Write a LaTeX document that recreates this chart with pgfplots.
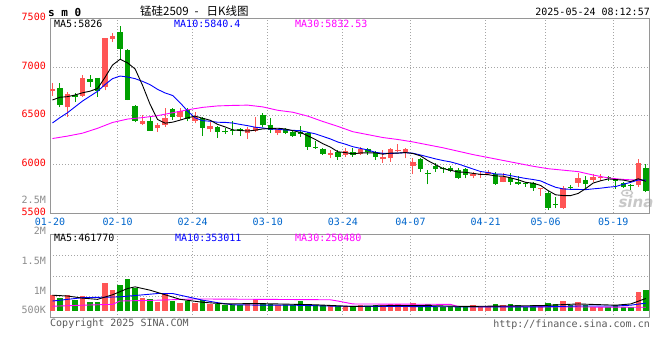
\documentclass[border=0pt]{standalone}
\usepackage{pgfplots}
\pgfplotsset{compat=1.18}
\usepackage{fontspec}
\setmonofont{DejaVu Sans Mono}
\newfontfamily\cjk{Noto Sans CJK SC}
\newfontfamily\wmfont{DejaVu Sans}
\definecolor{cred}{RGB}{255,85,85}
\definecolor{cgreen}{RGB}{0,160,0}
\definecolor{bordergray}{RGB}{150,150,150}
\definecolor{gridgray}{RGB}{165,165,165}
\definecolor{datecol}{RGB}{0,102,204}
\definecolor{labgray}{RGB}{140,140,140}
\definecolor{txtgray}{RGB}{90,90,90}
\definecolor{mablue}{RGB}{0,0,255}
\definecolor{mamag}{RGB}{255,0,255}
\definecolor{wmgray}{RGB}{200,200,200}
\newcommand{\mf}{\ttfamily\fontsize{10bp}{12bp}\selectfont}
\begin{document}
\begin{tikzpicture}[x=1bp,y=1bp,font=\mf]
\fill[white] (0,0) rectangle (660,360);
\pgfplotsset{
  kbase/.style={scale only axis, width=599bp, xmin=-0.33, xmax=79.43,
    axis line style={draw=bordergray, line width=1bp},
    major tick length=0pt,
    xtick={-0.33,8.67,18.67,28.67,38.67,47.67,57.67,65.67,74.67},
    xmajorgrids, ymajorgrids,
    major grid style={draw=gridgray, line width=0.8bp, dash pattern=on 1bp off 2bp},
    unbounded coords=jump, clip=true, scaled y ticks=false,
    tick label style={font=\mf},
  },
  wick/.style={line width=1bp},
  body/.style={line width=5.5bp},
  mal/.style={line width=0.9bp},
}
% watermark
\node[inner sep=0pt, text=wmgray, font=\wmfont\bfseries\itshape\fontsize{15bp}{15bp}\selectfont] at (636,158) {sina};
\draw[wmgray, line width=1.3bp] (627,167) ellipse (5.5 and 3);
\fill[wmgray] (627,167) circle (1.6);
% ---------------- price panel ----------------
\begin{axis}[kbase, at={(50bp,147bp)}, anchor=south west, height=194.7bp,
  ymin=5500, ymax=7500, ytick={5500,6000,6500,7000,7500},
  yticklabels={5500,6000,6500,7000,7500},
  yticklabel style={text=red, inner sep=0pt, xshift=-4bp, yshift=1.5bp},
  xticklabels={01-20,02-10,02-24,03-10,03-24,04-07,04-21,05-06,05-19},
  xticklabel style={text=datecol, inner sep=0pt, yshift=-5bp},
]
% red wicks
\addplot[cred, wick] coordinates {
(0,6702)(0,6832)(0,nan) (2,6487)(2,6746)(2,nan) (4,6695)(4,6918)(4,nan)
(7,6760)(7,7300)(7,nan) (8,7260)(8,7345)(8,nan) (12,6405)(12,6505)(12,nan)
(14,6336)(14,6422)(14,nan) (15,6385)(15,6575)(15,nan) (17,6460)(17,6575)(17,nan)
(19,6420)(19,6540)(19,nan) (21,6336)(21,6438)(21,nan) (26,6260)(26,6380)(26,nan)
(27,6335)(27,6490)(27,nan) (30,6300)(30,6365)(30,nan) (37,6062)(37,6147)(37,nan)
(39,6080)(39,6165)(39,nan) (41,6100)(41,6175)(41,nan) (44,6017)(44,6147)(44,nan)
(45,6028)(45,6165)(45,nan) (46,6130)(46,6210)(46,nan) (47,6062)(47,6165)(47,nan)
(48,5900)(48,6068)(48,nan) (56,5855)(56,5920)(56,nan) (57,5863)(57,5925)(57,nan)
(58,5890)(58,5940)(58,nan) (60,5815)(60,5908)(60,nan) (65,5678)(65,5760)(65,nan)
(68,5545)(68,5781)(68,nan) (70,5771)(70,5908)(70,nan) (72,5822)(72,5898)(72,nan)
(73,5830)(73,5898)(73,nan) (78,5770)(78,6055)(78,nan)
};
% red bodies
\addplot[cred, body] coordinates {
(0,6755)(0,6770)(0,nan) (2,6586)(2,6723)(2,nan) (4,6702)(4,6884)(4,nan)
(7,6790)(7,7295)(7,nan) (8,7285)(8,7320)(8,nan) (12,6415)(12,6445)(12,nan)
(14,6370)(14,6405)(14,nan) (15,6400)(15,6480)(15,nan) (17,6485)(17,6548)(17,nan)
(19,6440)(19,6490)(19,nan) (21,6360)(21,6390)(21,nan) (26,6320)(26,6360)(26,nan)
(27,6343)(27,6380)(27,nan) (30,6325)(30,6360)(30,nan) (37,6097)(37,6120)(37,nan)
(39,6097)(39,6140)(39,nan) (41,6107)(41,6155)(41,nan) (44,6052)(44,6072)(44,nan)
(45,6062)(45,6155)(45,nan) (46,6140)(46,6150)(46,nan) (47,6125)(47,6158)(47,nan)
(48,5987)(48,6020)(48,nan) (56,5880)(56,5898)(56,nan) (57,5887)(57,5897)(57,nan)
(58,5898)(58,5920)(58,nan) (60,5822)(60,5873)(60,nan) (65,5744)(65,5754)(65,nan)
(68,5550)(68,5754)(68,nan) (70,5812)(70,5863)(70,nan) (72,5840)(72,5867)(72,nan)
(73,5856)(73,5866)(73,nan) (78,5790)(78,6010)(78,nan)
};
% green wicks
\addplot[cgreen, wick] coordinates {
(1,6586)(1,6832)(1,nan) (3,6644)(3,6736)(3,nan) (5,6798)(5,6918)(5,nan)
(6,6695)(6,6890)(6,nan) (9,7080)(9,7420)(9,nan) (10,6660)(10,7180)(10,nan)
(11,6430)(11,6605)(11,nan) (13,6340)(13,6490)(13,nan) (16,6456)(16,6576)(16,nan)
(18,6440)(18,6575)(18,nan) (20,6295)(20,6490)(20,nan) (22,6275)(22,6390)(22,nan)
(23,6310)(23,6370)(23,nan) (24,6300)(24,6440)(24,nan) (25,6290)(25,6370)(25,nan)
(28,6385)(28,6530)(28,nan) (29,6320)(29,6475)(29,nan) (31,6310)(31,6370)(31,nan)
(32,6285)(32,6340)(32,nan) (33,6285)(33,6390)(33,nan) (34,6150)(34,6330)(34,nan)
(35,6155)(35,6235)(35,nan) (36,6095)(36,6170)(36,nan) (38,6045)(38,6147)(38,nan)
(40,6079)(40,6165)(40,nan) (42,6097)(42,6170)(42,nan) (43,6045)(43,6135)(43,nan)
(49,5925)(49,6068)(49,nan) (50,5795)(50,5942)(50,nan) (51,5925)(51,6010)(51,nan)
(52,5915)(52,5975)(52,nan) (53,5918)(53,5986)(53,nan) (54,5850)(54,5960)(54,nan)
(55,5855)(55,5960)(55,nan) (59,5788)(59,5918)(59,nan) (61,5788)(61,5908)(61,nan)
(62,5790)(62,5880)(62,nan) (63,5770)(63,5822)(63,nan) (64,5730)(64,5815)(64,nan)
(66,5530)(66,5726)(66,nan) (67,5549)(67,5668)(67,nan) (69,5740)(69,5788)(69,nan)
(71,5761)(71,5884)(71,nan) (74,5830)(74,5880)(74,nan) (75,5750)(75,5850)(75,nan)
(76,5760)(76,5815)(76,nan) (77,5737)(77,5797)(77,nan) (79,5720)(79,6000)(79,nan)
};
% green bodies
\addplot[cgreen, body] coordinates {
(1,6781)(1,6608)(1,nan) (3,6712)(3,6690)(3,nan) (5,6880)(5,6850)(5,nan)
(6,6890)(6,6750)(6,nan) (9,7356)(9,7182)(9,nan) (10,7170)(10,6665)(10,nan)
(11,6600)(11,6440)(11,nan) (13,6445)(13,6345)(13,nan) (16,6565)(16,6490)(16,nan)
(18,6558)(18,6466)(18,nan) (20,6475)(20,6370)(20,nan) (22,6385)(22,6335)(22,nan)
(23,6345)(23,6335)(23,nan) (24,6350)(24,6340)(24,nan) (25,6363)(25,6340)(25,nan)
(28,6505)(28,6400)(28,nan) (29,6405)(29,6355)(29,nan) (31,6360)(31,6320)(31,nan)
(32,6335)(32,6295)(32,nan) (33,6330)(33,6310)(33,nan) (34,6320)(34,6180)(34,nan)
(35,6180)(35,6168)(35,nan) (36,6160)(36,6105)(36,nan) (38,6125)(38,6072)(38,nan)
(40,6125)(40,6097)(40,nan) (42,6158)(42,6124)(42,nan) (43,6125)(43,6072)(43,nan)
(49,6052)(49,5952)(49,nan) (50,5915)(50,5905)(50,nan) (51,5986)(51,5952)(51,nan)
(52,5966)(52,5950)(52,nan) (53,5966)(53,5935)(53,nan) (54,5940)(54,5863)(54,nan)
(55,5952)(55,5891)(55,nan) (59,5898)(59,5800)(59,nan) (61,5863)(61,5815)(61,nan)
(62,5822)(62,5795)(62,nan) (63,5804)(63,5794)(63,nan) (64,5805)(64,5755)(64,nan)
(66,5703)(66,5550)(66,nan) (67,5590)(67,5580)(67,nan) (69,5768)(69,5758)(69,nan)
(71,5840)(71,5800)(71,nan) (74,5866)(74,5856)(74,nan) (75,5845)(75,5830)(75,nan)
(76,5805)(76,5771)(76,nan) (77,5790)(77,5780)(77,nan) (79,5960)(79,5726)(79,nan)
};
% MA30
\addplot[mamag, mal] coordinates {
(0,6265)(2,6290)(4,6320)(6,6370)(8,6430)(10,6465)(12,6480)(14,6500)(16,6530)
(18,6560)(20,6585)(22,6600)(24,6605)(26,6608)(28,6590)(30,6555)(32,6535)(34,6495)
(36,6440)(38,6390)(40,6335)(42,6305)(44,6275)(46,6255)(48,6230)(50,6200)(52,6170)
(54,6135)(56,6100)(58,6070)(60,6040)(62,6010)(64,5980)(66,5955)(68,5940)(70,5925)
(72,5890)(74,5860)(76,5845)(79,5833)
};
% MA10
\addplot[mablue, mal] coordinates {
(0,6425)(1,6480)(2,6530)(3,6590)(4,6650)(5,6700)(6,6750)(7,6820)(8,6880)(9,6907)
(10,6897)(11,6880)(12,6852)(13,6818)(14,6770)(15,6733)(16,6707)(17,6632)(18,6547)
(19,6477)(20,6448)(21,6443)(22,6432)(23,6431)(24,6424)(25,6410)(26,6397)(27,6381)
(28,6374)(29,6361)(30,6360)(31,6353)(32,6349)(33,6346)(34,6330)(35,6313)(36,6287)
(37,6261)(38,6229)(39,6207)(40,6181)(41,6164)(42,6147)(43,6123)(44,6113)(45,6111)
(46,6116)(47,6120)(48,6114)(49,6096)(50,6076)(51,6056)(52,6039)(53,6025)(54,6004)
(55,5978)(56,5952)(57,5926)(58,5916)(59,5901)(60,5898)(61,5884)(62,5869)(63,5855)
(64,5844)(65,5830)(66,5795)(67,5764)(68,5747)(69,5743)(70,5742)(71,5740)(72,5748)
(73,5755)(74,5765)(75,5772)(76,5795)(77,5815)(78,5840)(79,5837)
};
% MA5
\addplot[black, mal] coordinates {
(0,6661)(1,6689)(2,6695)(3,6712)(4,6735)(5,6751)(6,6779)(7,6894)(8,7020)(9,7079)
(10,7042)(11,6980)(12,6810)(13,6615)(14,6460)(15,6423)(16,6433)(17,6454)(18,6478)
(19,6495)(20,6473)(21,6453)(22,6410)(23,6384)(24,6354)(25,6348)(26,6342)(27,6351)
(28,6364)(29,6367)(30,6371)(31,6363)(32,6346)(33,6328)(34,6293)(35,6255)(36,6212)
(37,6177)(38,6129)(39,6121)(40,6107)(41,6117)(42,6118)(43,6118)(44,6104)(45,6116)
(46,6115)(47,6121)(48,6111)(49,6087)(50,6037)(51,5997)(52,5956)(53,5939)(54,5921)
(55,5918)(56,5907)(57,5897)(58,5894)(59,5881)(60,5878)(61,5861)(62,5841)(63,5815)
(64,5806)(65,5783)(66,5730)(67,5687)(68,5679)(69,5679)(70,5701)(71,5751)(72,5808)
(73,5831)(74,5850)(75,5844)(76,5838)(77,5823)(78,5852)(79,5826)
};
\end{axis}
% ---------------- volume panel ----------------
\begin{axis}[kbase, at={(50bp,42.3bp)}, anchor=south west, height=83.4bp,
  ymin=0, ymax=2, ytick={0.5,1,1.5}, yticklabels={}, xticklabels={},
]
\addplot[cred, body] coordinates {
(0,0.165)(0,0.539)(0,nan) (2,0.165)(2,0.539)(2,nan) (4,0.165)(4,0.523)(4,nan)
(7,0.165)(7,0.834)(7,nan) (8,0.165)(8,0.659)(8,nan) (12,0.165)(12,0.483)(12,nan)
(14,0.165)(14,0.379)(14,nan) (15,0.165)(15,0.563)(15,nan) (17,0.165)(17,0.355)(17,nan)
(19,0.165)(19,0.355)(19,nan) (21,0.165)(21,0.323)(21,nan) (26,0.165)(26,0.339)(26,nan)
(27,0.165)(27,0.443)(27,nan) (30,0.165)(30,0.315)(30,nan) (37,0.165)(37,0.275)(37,nan)
(39,0.165)(39,0.275)(39,nan) (41,0.165)(41,0.315)(41,nan) (44,0.165)(44,0.315)(44,nan)
(45,0.165)(45,0.323)(45,nan) (46,0.165)(46,0.323)(46,nan) (47,0.165)(47,0.275)(47,nan)
(48,0.165)(48,0.355)(48,nan) (56,0.165)(56,0.299)(56,nan) (57,0.165)(57,0.259)(57,nan)
(58,0.165)(58,0.259)(58,nan) (60,0.165)(60,0.299)(60,nan) (65,0.165)(65,0.299)(65,nan)
(68,0.165)(68,0.403)(68,nan) (70,0.165)(70,0.379)(70,nan) (72,0.165)(72,0.259)(72,nan)
(73,0.165)(73,0.259)(73,nan) (78,0.165)(78,0.619)(78,nan)
};
\addplot[cgreen, body] coordinates {
(1,0.165)(1,0.475)(1,nan) (3,0.165)(3,0.435)(3,nan) (5,0.165)(5,0.379)(5,nan)
(6,0.165)(6,0.379)(6,nan) (9,0.165)(9,0.778)(9,nan) (10,0.165)(10,0.922)(10,nan)
(11,0.165)(11,0.723)(11,nan) (13,0.165)(13,0.459)(13,nan) (16,0.165)(16,0.403)(16,nan)
(18,0.165)(18,0.403)(18,nan) (20,0.165)(20,0.435)(20,nan) (22,0.165)(22,0.339)(22,nan)
(23,0.165)(23,0.299)(23,nan) (24,0.165)(24,0.299)(24,nan) (25,0.165)(25,0.299)(25,nan)
(28,0.165)(28,0.363)(28,nan) (29,0.165)(29,0.323)(29,nan) (31,0.165)(31,0.299)(31,nan)
(32,0.165)(32,0.299)(32,nan) (33,0.165)(33,0.395)(33,nan) (34,0.165)(34,0.299)(34,nan)
(35,0.165)(35,0.299)(35,nan) (36,0.165)(36,0.299)(36,nan) (38,0.165)(38,0.275)(38,nan)
(40,0.165)(40,0.259)(40,nan) (42,0.165)(42,0.259)(42,nan) (43,0.165)(43,0.315)(43,nan)
(49,0.165)(49,0.275)(49,nan) (50,0.165)(50,0.323)(50,nan) (51,0.165)(51,0.259)(51,nan)
(52,0.165)(52,0.259)(52,nan) (53,0.165)(53,0.259)(53,nan) (54,0.165)(54,0.259)(54,nan)
(55,0.165)(55,0.259)(55,nan) (59,0.165)(59,0.323)(59,nan) (61,0.165)(61,0.323)(61,nan)
(62,0.165)(62,0.299)(62,nan) (63,0.165)(63,0.259)(63,nan) (64,0.165)(64,0.299)(64,nan)
(66,0.165)(66,0.355)(66,nan) (67,0.165)(67,0.323)(67,nan) (69,0.165)(69,0.315)(69,nan)
(71,0.165)(71,0.315)(71,nan) (74,0.165)(74,0.259)(74,nan) (75,0.165)(75,0.315)(75,nan)
(76,0.165)(76,0.259)(76,nan) (77,0.165)(77,0.259)(77,nan) (79,0.165)(79,0.659)(79,nan)
};
% vol MA30
\addplot[mamag, mal] coordinates {
(0,0.275)(4,0.30)(8,0.32)(9,0.40)(14,0.42)(19,0.45)(37,0.43)(38,0.40)(40,0.33)
(53,0.32)(54,0.27)(79,0.25)
};
% vol MA10
\addplot[mablue, mal] coordinates {
(0,0.40)(4,0.48)(9,0.50)(14,0.58)(16,0.58)(19,0.46)(20,0.42)(22,0.36)(24,0.31)
(28,0.30)(32,0.30)(38,0.275)(45,0.27)(55,0.26)(65,0.26)(70,0.28)(75,0.28)(77,0.30)(79,0.35)
};
% vol MA5
\addplot[black, mal] coordinates {
(0,0.54)(2,0.52)(4,0.47)(6,0.44)(8,0.55)(10,0.70)(11,0.74)(13,0.66)(15,0.55)(17,0.44)
(20,0.37)(23,0.33)(27,0.34)(30,0.33)(35,0.31)(40,0.27)(45,0.29)(50,0.29)(55,0.27)
(60,0.28)(65,0.29)(70,0.33)(75,0.30)(77,0.33)(79,0.46)
};
\end{axis}
% ---------------- texts ----------------
\node[anchor=west, inner sep=0pt, font=\ttfamily\bfseries\fontsize{11bp}{12bp}\selectfont] at (48,348) {s m 0};
\node[anchor=west, inner sep=0pt, font=\cjk\fontsize{11.5bp}{13bp}\selectfont] at (140,349) {锰硅2509\hspace{6bp}-\hspace{8bp}日K线图};
\node[anchor=east, inner sep=0pt] at (650,348) {2025-05-24 08:12:57};
\node[anchor=west, inner sep=0pt, text=black] at (54,336.3) {MA5:5826};
\node[anchor=west, inner sep=0pt, text=mablue] at (174,336.3) {MA10:5840.4};
\node[anchor=west, inner sep=0pt, text=mamag] at (295,336.3) {MA30:5832.53};
\node[anchor=west, inner sep=0pt, text=black] at (54,121.7) {MA5:461770};
\node[anchor=west, inner sep=0pt, text=mablue] at (175,121.7) {MA10:353011};
\node[anchor=west, inner sep=0pt, text=mamag] at (295,121.7) {MA30:250480};
\node[anchor=east, inner sep=0pt, text=labgray] at (46,160) {2.5M};
\node[anchor=east, inner sep=0pt, text=labgray] at (46,129.5) {2M};
\node[anchor=east, inner sep=0pt, text=labgray] at (46,99) {1.5M};
\node[anchor=east, inner sep=0pt, text=labgray] at (46,69.5) {1M};
\node[anchor=east, inner sep=0pt, text=labgray] at (46,50) {500K};
\node[anchor=west, inner sep=0pt, text=txtgray] at (50,36.5) {Copyright 2025 SINA.COM};
\node[anchor=east, inner sep=0pt, text=txtgray] at (650,35) {http://finance.sina.com.cn};
\pgfresetboundingbox
\path[use as bounding box] (0,0) rectangle (660,360);
\end{tikzpicture}
\end{document}
